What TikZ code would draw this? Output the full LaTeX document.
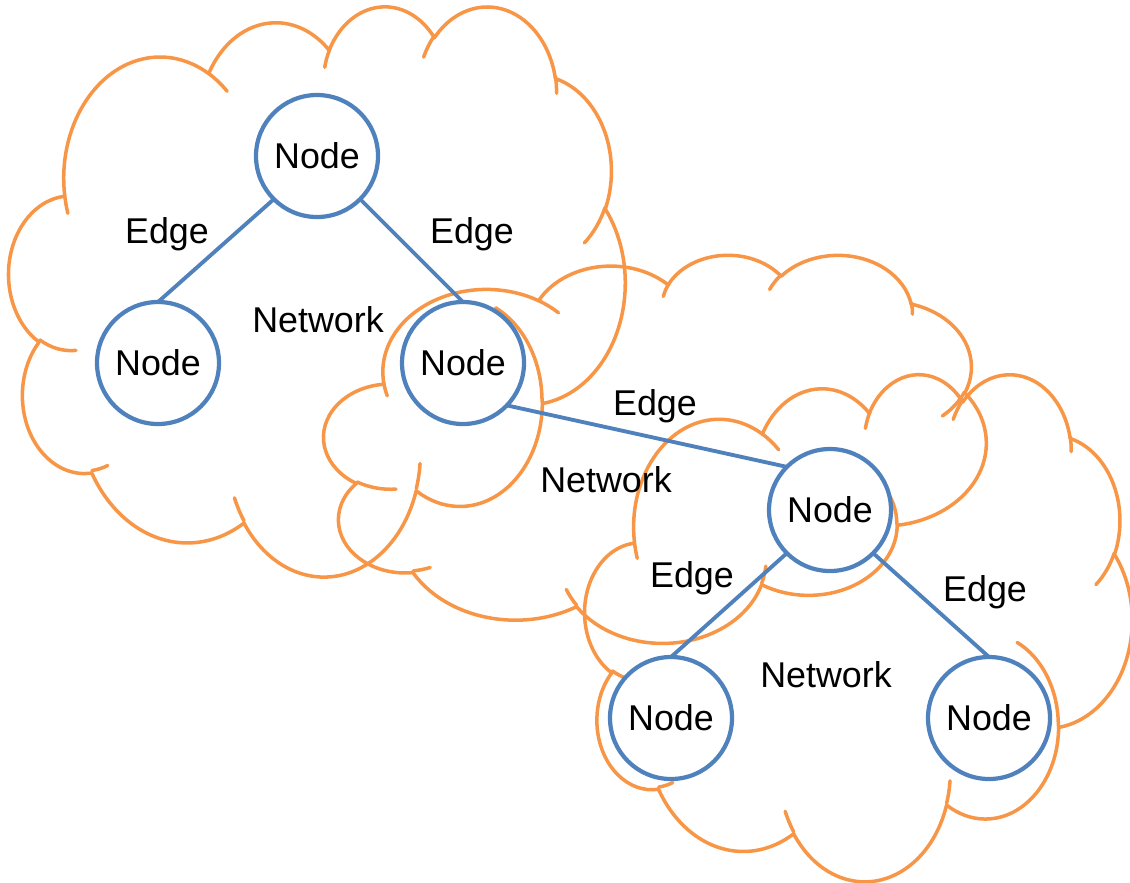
\documentclass[tikz,border=0pt]{standalone}
\usepackage{fontspec}
\setmainfont{Liberation Sans}
\usepackage{xcolor}
\usepackage{tikz}
\usetikzlibrary{calc}
\definecolor{netblue}{HTML}{4F81BD}
\definecolor{cloudorange}{HTML}{F79646}
\tikzset{
  cloudline/.style={draw=cloudorange, line width=1pt, line cap=round, line join=round},
  netnode/.style={circle, draw=netblue, fill=white, line width=1.2pt, minimum size=12.2mm, inner sep=0pt, outer sep=0pt, font=\fontsize{10.2}{12}\selectfont},
  link/.style={draw=netblue, line width=1.1pt},
  lab/.style={text=black, font=\fontsize{10.2}{12}\selectfont, inner sep=0pt},
  % one cloud bump: x radius, y radius, start angle, sweep (visual angles)
  cldarc/.style n args={4}{insert path={arc[x radius=#1, y radius=#2,
      start angle={atan2(#1*sin(#3),#2*cos(#3))},
      delta angle={mod(atan2(#1*sin(#3+#4),#2*cos(#3+#4))-atan2(#1*sin(#3),#2*cos(#3))+540,360)-180}]}},
}
% cloud outline in a 43.2 x 43.2 box, y pointing down
\newcommand\netcloud{%
  \draw[cloudline] (3.900,14.370)
    [cldarc={6.753}{9.190}{-190.4875}{123.7805}]
    [cldarc={5.333}{7.267}{-144.1024}{89.9452}]
    [cldarc={4.365}{5.945}{-145.8079}{99.7230}]
    [cldarc={4.857}{6.595}{-130.9861}{117.2417}]
    [cldarc={5.333}{7.273}{-78.7089}{109.0269}]
    [cldarc={6.775}{9.220}{-46.2673}{130.2690}]
    [cldarc={5.785}{7.867}{0.6250}{114.0333}]
    [cldarc={6.752}{9.215}{22.4516}{115.1726}]
    [cldarc={7.720}{10.543}{66.2426}{75.7110}]
    [cldarc={4.360}{5.918}{-274.9421}{146.7356}]
    [cldarc={4.345}{5.945}{-246.8285}{152.5189}] -- cycle;
  \draw[cloudline]
    (4.693,26.177) [cldarc={4.345}{5.945}{86.7420}{26.4295}]
    (6.928,34.899) [cldarc={4.360}{5.918}{73.6105}{11.4475}]
    (16.478,39.090) [cldarc={6.752}{9.215}{137.6242}{14.0811}]
    (28.827,34.751) [cldarc={6.752}{9.215}{6.4533}{15.9984}]
    (34.129,22.954) [cldarc={5.785}{7.867}{-70.2924}{70.9174}]
    (41.798,15.354) [cldarc={5.333}{7.273}{30.3180}{27.7515}]
    (38.324,5.426) [cldarc={4.857}{6.595}{-13.7443}{14.8589}]
    (29.078,3.952) [cldarc={4.857}{6.595}{-149.1815}{18.1954}]
    (22.141,4.720) [cldarc={4.365}{5.945}{-163.4943}{17.6864}]
    (14.000,5.192) [cldarc={6.753}{9.190}{-66.7070}{12.3194}]
    (4.127,15.789) [cldarc={6.753}{9.190}{157.6544}{11.8582}];
}

\begin{document}
\begin{tikzpicture}
  \useasboundingbox (0,0) rectangle (11.3,8.82);

  % the three networks
  \begin{scope}[shift={(0.09,8.77)}, x=0.14259cm, y=-0.13194cm]
    \netcloud
  \end{scope}
  \begin{scope}[shift={(3.24,6.28)}, x=0.15324cm, y=-0.08981cm]
    \netcloud
  \end{scope}
  \begin{scope}[shift={(5.85,5.09)}, x=0.12662cm, y=-0.11736cm]
    \netcloud
  \end{scope}

  % nodes
  \node[netnode] (top) at (3.17,7.26) {Node};
  \node[netnode] (left) at (1.58,5.19) {Node};
  \node[netnode] (mid) at (4.63,5.19) {Node};
  \node[netnode] (hub) at (8.30,3.72) {Node};
  \node[netnode] (botl) at (6.71,1.64) {Node};
  \node[netnode] (botr) at (9.89,1.64) {Node};

  % edges
  \draw[link] (top.225) -- (left.north);
  \draw[link] (top.-45) -- (mid.north);
  \draw[link] (mid.-44) -- (hub.135);
  \draw[link] (hub.225) -- (botl.north);
  \draw[link] (hub.-45) -- (botr.north);

  \node[lab] (e1) at (1.67,6.48) {Edge};
  \node[lab] (e2) at (4.72,6.48) {Edge};
  \node[lab] (e3) at (6.55,4.76) {Edge};
  \node[lab] (e4) at (6.92,3.04) {Edge};
  \node[lab] (e5) at (9.85,2.90) {Edge};
  \node[lab] (n1) at (3.18,5.62) {Network};
  \node[lab] (n2) at (6.06,4.02) {Network};
  \node[lab] (n3) at (8.26,2.07) {Network};
\end{tikzpicture}
\end{document}
